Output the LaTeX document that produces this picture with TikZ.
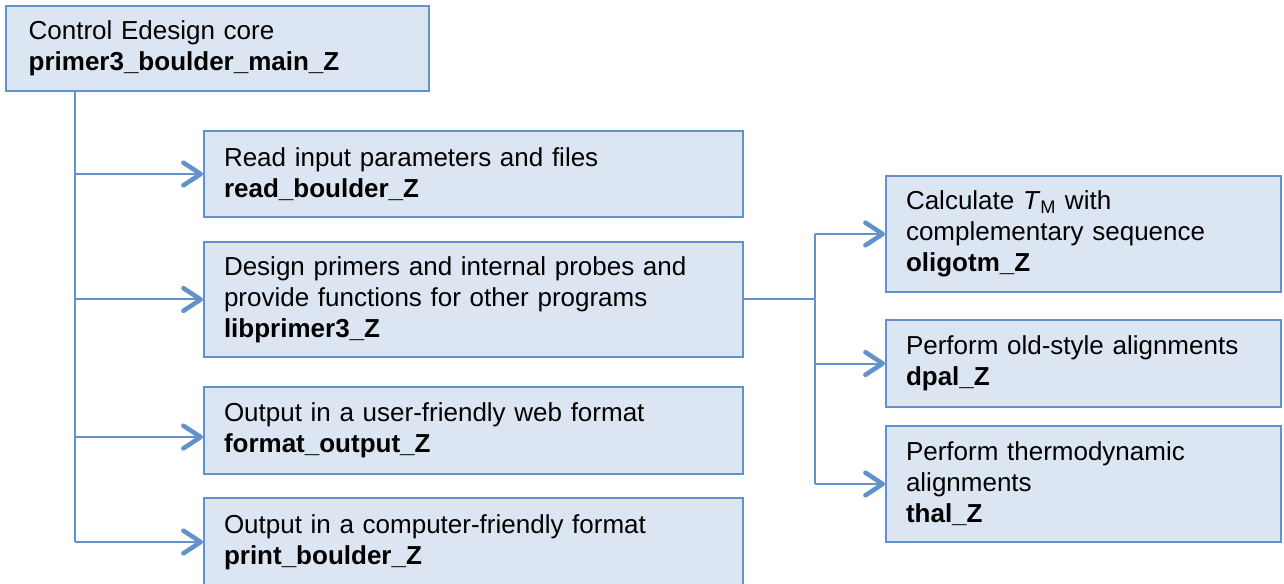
\documentclass[tikz,border=0pt]{standalone}
\usepackage{fontspec}
\setmainfont{Liberation Sans}
\usetikzlibrary{arrows.meta,positioning}
\definecolor{boxfill}{RGB}{220,230,242}
\definecolor{boxline}{RGB}{98,146,204}

\begin{document}
\begin{tikzpicture}[x=0.75pt,y=-0.75pt,
    >={Straight Barb[length=13pt,width=17pt,line width=3.4pt,round]},
    box/.style={draw=boxline,line width=1.5pt,fill=boxfill,anchor=north west,
      align=left,inner xsep=15pt,inner ysep=0pt,
      font=\fontsize{19.5}{23.25}\selectfont},
    leftbox/.style={box,text width=374pt},
    rightbox/.style={box,text width=266pt},
    link/.style={draw=boxline,line width=1.5pt}]
  \useasboundingbox (0,0) rectangle (1284,584);

  \node[box,text width=283pt,inner xsep=17pt,minimum height=63.75pt] (main) at (5,5)
    {Control Edesign core\\\textbf{primer3\_boulder\_main\_Z}};

  % called by the core
  \node[leftbox,minimum height=64.5pt] (read) at (203,130)
    {Read input parameters and files\\\textbf{read\_boulder\_Z}};
  \node[leftbox,minimum height=86.25pt] (lib) at (203,241)
    {Design primers and internal probes and\\provide functions for other programs\\\textbf{libprimer3\_Z}};
  \node[leftbox,minimum height=65.25pt] (format) at (203,386)
    {Output in a user-friendly web format\\\textbf{format\_output\_Z}};
  \node[leftbox,minimum height=66pt] (print) at (203,497)
    {Output in a computer-friendly format\\\textbf{print\_boulder\_Z}};

  % called by libprimer3
  \node[rightbox,minimum height=87pt] (oligo) at (885,175)
    {Calculate \textit{T}\textsubscript{M} with\\complementary sequence\\\textbf{oligotm\_Z}};
  \node[rightbox,minimum height=65.25pt] (dpal) at (885,319)
    {Perform old-style alignments\\\textbf{dpal\_Z}};
  \node[rightbox,minimum height=87pt] (thal) at (885,425)
    {Perform thermodynamic\\alignments\\\textbf{thal\_Z}};

  \coordinate (trunk) at ([xshift=52.5pt]main.south west);
  \coordinate (fork) at ([xshift=53.25pt]lib.east);

  \draw[link] (trunk) -- (trunk |- print.west);
  \draw[link] (lib) -- (fork);
  \draw[link] (fork |- oligo.west) -- (fork |- thal.west);

  \path[->,every edge/.style={link}]
    (trunk |- read.west) edge (read)
    (trunk |- lib.west) edge (lib)
    ([yshift=-4.9pt]trunk |- format.west) edge ([yshift=-4.9pt]format.west)
    (trunk |- print.west) edge (print)
    (fork |- oligo.west) edge (oligo)
    (fork |- dpal.west) edge (dpal)
    (fork |- thal.west) edge (thal);
\end{tikzpicture}
\end{document}
